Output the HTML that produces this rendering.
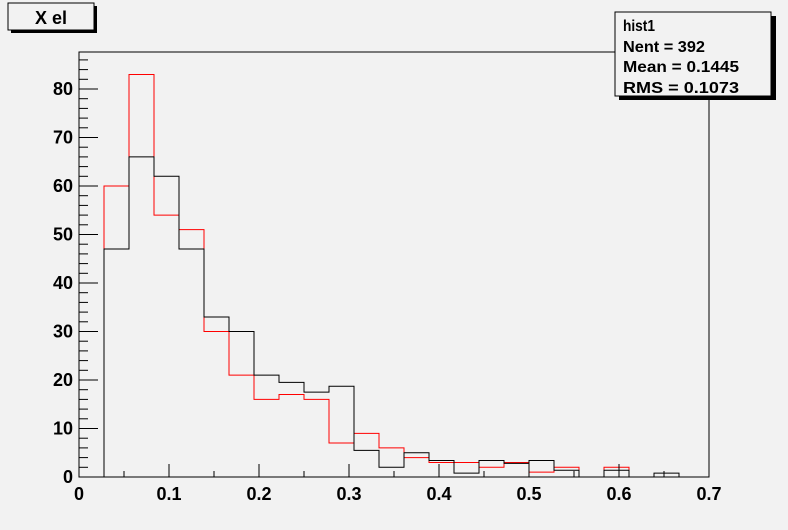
<!DOCTYPE html>
<html><head><meta charset="utf-8"><style>
html,body{margin:0;padding:0;background:#f2f2f2;}
svg{display:block;font-family:"Liberation Sans",sans-serif;}
</style></head><body>
<svg width="788" height="530" viewBox="0 0 788 530">
<rect x="0" y="0" width="788" height="530" fill="#f2f2f2"/>
<g id="frame"></g>
<g id="hists"></g>
<g id="axes"></g>
<g>
<rect x="11" y="6" width="86" height="27" fill="#000"/>
<rect x="8" y="3" width="86" height="27" fill="#f2f2f2" stroke="#000" stroke-width="1"/>
<text x="51" y="24" text-anchor="middle" font-size="18" font-weight="bold">X el</text>
</g>
<g>
<rect x="619" y="16" width="157" height="84" fill="#000"/>
<rect x="615" y="12" width="156" height="84" fill="#f2f2f2" stroke="#000" stroke-width="1"/>
<text x="623" y="31" font-size="16" font-weight="bold" textLength="32" lengthAdjust="spacingAndGlyphs">hist1</text>
<text x="623" y="52" font-size="16" font-weight="bold" textLength="82" lengthAdjust="spacingAndGlyphs">Nent = 392</text>
<text x="623" y="72" font-size="16" font-weight="bold" textLength="116" lengthAdjust="spacingAndGlyphs">Mean  = 0.1445</text>
<text x="623" y="93" font-size="16" font-weight="bold" textLength="116" lengthAdjust="spacingAndGlyphs">RMS   = 0.1073</text>
</g>
</svg>
<script>
const binWidth = 0.7/25.2;
const blackCounts = [0,47,66,62,47,33,30,21,19.5,17.5,18.7,5.5,2,5,3.4,0.8,3.4,2.8,3.4,1.4,0,1.4,0,0.8,0];
const redCounts   = [0,60,83,54,51,30,21,16,17,16,7,9,6,4,3,3,2,3,1,2,0,2,0,0,0];
const xTicks = [0,0.1,0.2,0.3,0.4,0.5,0.6,0.7];
const xTickLabels = ["0","0.1","0.2","0.3","0.4","0.5","0.6","0.7"];
const yTicks = [0,10,20,30,40,50,60,70,80];
const yTickLabels = ["0","10","20","30","40","50","60","70","80"];

const X0=79,X1=709,Y0=477,Y1=52;
const xs = v => X0 + v/0.7*(X1-X0);
const ys = v => Y0 - v*4.85;
const NS="http://www.w3.org/2000/svg";
function mk(tag, attrs, parent){const e=document.createElementNS(NS,tag);for(const k in attrs)e.setAttribute(k,attrs[k]);parent.appendChild(e);return e;}

const frame=document.getElementById('frame');
const fr=mk('rect',{x:X0,y:Y1,width:X1-X0,height:Y0-Y1,fill:'#f2f2f2',stroke:'#000','stroke-width':1},frame);



function histPath(counts){
  let first=counts.findIndex(c=>c>0), last=counts.length-1;
  while(last>0&&counts[last]===0)last--;
  let d='M'+xs(first*binWidth)+','+Y0;
  for(let i=first;i<=last;i++){
    d+=' L'+xs(i*binWidth)+','+ys(counts[i])+' L'+xs((i+1)*binWidth)+','+ys(counts[i]);
  }
  d+=' L'+xs((last+1)*binWidth)+','+Y0;
  return d;
}
const hg=document.getElementById('hists');
const rp=mk('path',{d:histPath(redCounts),fill:'none',stroke:'#ff0000','stroke-width':1},hg);


const bp=mk('path',{d:histPath(blackCounts),fill:'none',stroke:'#000','stroke-width':1},hg);



const ax=document.getElementById('axes');
for(let v=0;v<=0.7001;v+=0.05){
  const major=Math.abs(v*10-Math.round(v*10))<1e-6;
  const t=mk('line',{x1:xs(v),x2:xs(v),y1:Y0,y2:Y0-(major?13:6),stroke:'#000'},ax);
  
  
}
xTicks.forEach((v,i)=>{
  const t=mk('text',{x:xs(v),y:Y0+23,'text-anchor':'middle','font-size':18,'font-weight':'bold'},ax);
  t.textContent=xTickLabels[i];
  
  
});
for(let v=0;v<=86;v+=2){
  const major=v%10===0;
  const t=mk('line',{x1:X0,x2:X0+(major?19:9),y1:ys(v),y2:ys(v),stroke:'#000'},ax);
  
  
}
yTicks.forEach((v,i)=>{
  const t=mk('text',{x:X0-6,y:ys(v)+6,'text-anchor':'end','font-size':18,'font-weight':'bold'},ax);
  t.textContent=yTickLabels[i];
  
  
});
</script>
</body></html>
